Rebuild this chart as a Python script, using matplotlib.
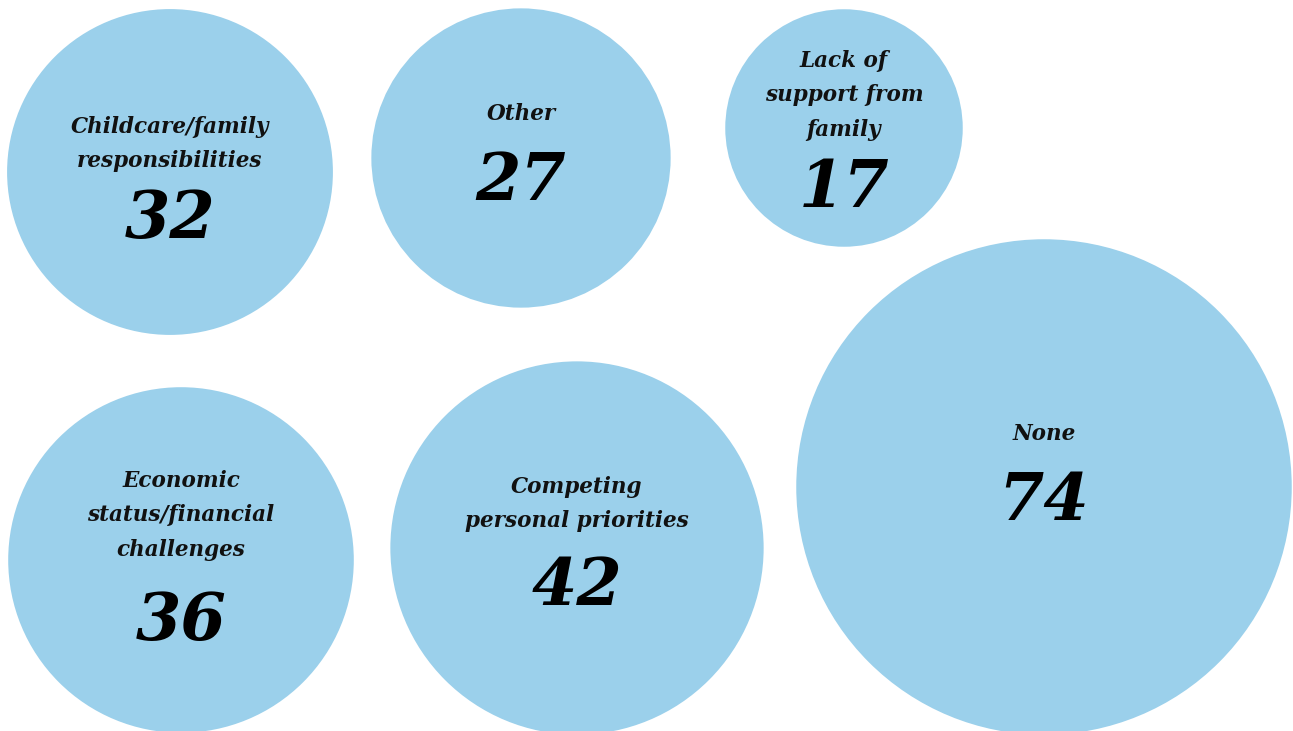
import numpy as np
import matplotlib
matplotlib.use("Agg")
import matplotlib.pyplot as plt
from matplotlib.patches import Circle

# data
labels = ["Childcare/family\nresponsibilities", "Other",
          "Lack of\nsupport from\nfamily",
          "Economic\nstatus/financial\nchallenges",
          "Competing\npersonal priorities", "None"]
values = [32, 27, 17, 36, 42, 74]

# layout (pixels, y down)
cx = [170, 521, 844, 181, 577, 1044]
cy = [172, 158, 128, 560, 548, 487]
label_y = [127, 114, 61, 481, 487, 434]   # centre of first label line
num_y = [220, 182, 189, 622, 587, 502]    # centre of number

SCALE = 28.8      # radius = SCALE * sqrt(value)
LINE = 34.5
FILL = "#9BD0EB"
FONT = "DejaVu Serif"

W, H = 1293, 731
fig = plt.figure(figsize=(W / 100, H / 100), dpi=100)
ax = fig.add_axes([0, 0, 1, 1])
ax.set_xlim(0, W)
ax.set_ylim(H, 0)
ax.set_aspect("equal")
ax.axis("off")

for lab, v, x, y, ly, ny in zip(labels, values, cx, cy, label_y, num_y):
    r = SCALE * np.sqrt(v)
    ax.add_patch(Circle((x, y), r, color=FILL, lw=0))
    for i, line in enumerate(lab.split("\n")):
        ax.text(x, ly + i * LINE, line, ha="center", va="center",
                fontsize=15.5, family=FONT, weight="bold", style="italic",
                color="#111111")
    ax.text(x, ny, str(v), ha="center", va="center", fontsize=47,
            family=FONT, weight="bold", style="italic", color="black")

fig.savefig("out.png", dpi=100)
